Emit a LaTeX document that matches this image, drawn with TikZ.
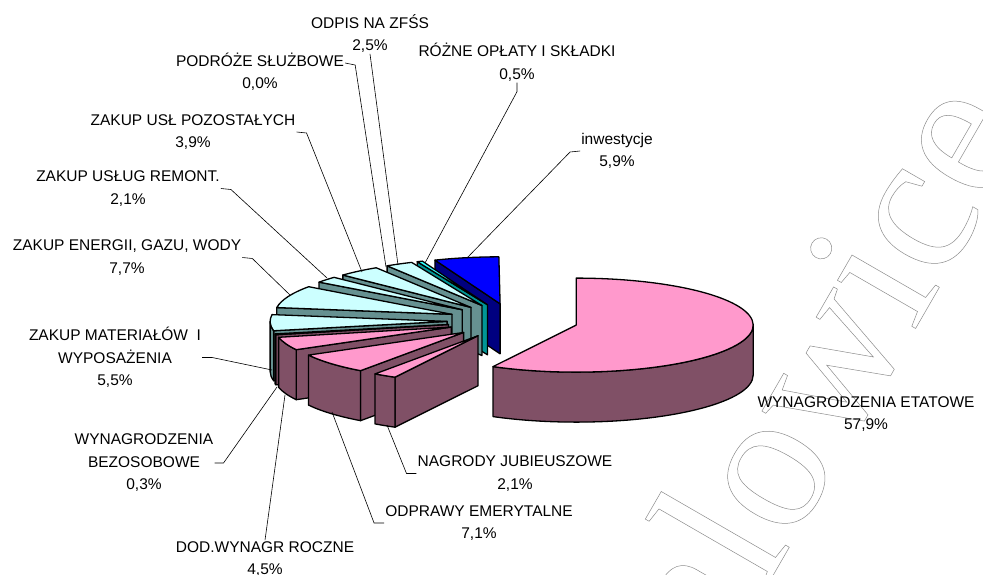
\documentclass[tikz,border=0pt]{standalone}
\usepackage{fontspec}
\setmainfont{Liberation Sans}
\newfontfamily\wmfont{Liberation Serif}

\definecolor{pinktop}{RGB}{255,153,204}
\definecolor{plumside}{RGB}{128,80,102}
\definecolor{icetop}{RGB}{204,255,255}
\definecolor{slateside}{RGB}{102,145,145}
\definecolor{aquatop}{RGB}{51,255,255}
\definecolor{tealside}{RGB}{0,150,150}
\definecolor{bluetop}{RGB}{0,0,255}
\definecolor{navyside}{RGB}{0,0,128}

\tikzset{
  slice/.style={draw=black, line width=1.3pt, line join=round},
  leader/.style={draw=black, line width=0.6pt},
  lbl/.style={align=center, inner sep=1pt, font=\fontsize{15.5}{22.5}\selectfont},
}

% one exploded slice: start angle, end angle, top colour, side colour
\newcommand{\pieslice}[4]{%
  \pgfmathsetmacro{\slmid}{(#1+#2)/2}
  \pgfmathsetmacro{\slx}{512.6+65.5*cos(\slmid)}
  \pgfmathsetmacro{\sly}{253.1+17.4*sin(\slmid)}
  \pgfmathtruncatemacro{\slcuta}{cos(#1)>0.01}
  \pgfmathtruncatemacro{\slcutb}{cos(#2)<-0.01}
  \pgfmathsetmacro{\slps}{max(#1,180)}
  \pgfmathsetmacro{\slpe}{min(#2,360)}
  \pgfmathtruncatemacro{\slrim}{\slpe>\slps+0.01}
  \begin{scope}[shift={(\slx,\sly)}]
    \ifnum\slcuta=1
      \filldraw[slice, fill=#4] (0,0) -- (#1:177 and 47) -- ++(0,-50) -- (0,-50) -- cycle;
    \fi
    \ifnum\slcutb=1
      \filldraw[slice, fill=#4] (0,0) -- (#2:177 and 47) -- ++(0,-50) -- (0,-50) -- cycle;
    \fi
    \ifnum\slrim=1
      \filldraw[slice, fill=#4] (\slps:177 and 47) arc[start angle=\slps, end angle=\slpe, x radius=177, y radius=47]
        -- ++(0,-50) arc[start angle=\slpe, end angle=\slps, x radius=177, y radius=47] -- cycle;
    \fi
    \filldraw[slice, fill=#3] (0,0) -- (#1:177 and 47) arc[start angle=#1, end angle=#2, x radius=177, y radius=47] -- cycle;
  \end{scope}
}

\begin{document}
\begin{tikzpicture}[x=1pt, y=1pt]
  \useasboundingbox (0,0) rectangle (983,574);
  % watermark
  \node[rotate=60, anchor=base west, inner sep=0, text=black!45, font=\wmfont\fontsize{200}{200}\selectfont] (watermark) at (719,-95)
    {\special{pdf:literal direct 1 Tr 0.5 w}alowice\special{pdf:literal direct 0 Tr}};

  % slices, back to front
  \pieslice{90.4}{111.6}{bluetop}{navyside}
  \pieslice{111.6}{113.4}{aquatop}{tealside}
  \pieslice{113.4}{122.4}{icetop}{slateside}
  \pieslice{122.4}{136.4}{icetop}{slateside}
  \pieslice{136.4}{144}{icetop}{slateside}
  \pieslice{144}{171.7}{icetop}{slateside}
  \pieslice{171.7}{191.5}{icetop}{slateside}
  \pieslice{242}{450}{pinktop}{plumside}
  \pieslice{191.5}{192.6}{pinktop}{plumside}
  \pieslice{192.6}{208.8}{pinktop}{plumside}
  \pieslice{208.8}{234.4}{pinktop}{plumside}
  \pieslice{234.4}{242}{pinktop}{plumside}

  % labels
  \node[lbl] (zfss) at (370,540.5) {ODPIS NA ZFŚS\\2,5\%};
  \node[lbl] (oplaty) at (517,511.5) {RÓŻNE OPŁATY I SKŁADKI\\0,5\%};
  \node[lbl] (podroze) at (260,502) {PODRÓŻE SŁUŻBOWE\\0,0\%};
  \node[lbl] (uslugi) at (193,442) {ZAKUP USŁ POZOSTAŁYCH\\3,9\%};
  \node[lbl] (remont) at (128,385.5) {ZAKUP USŁUG REMONT.\\2,1\%};
  \node[lbl] (energia) at (127,316.5) {ZAKUP ENERGII, GAZU, WODY\\7,7\%};
  \node[lbl] (materialy) at (115,216.5) {ZAKUP MATERIAŁÓW\ \ I\\WYPOSAŻENIA\\5,5\%};
  \node[lbl] (bezos) at (144,111) {WYNAGRODZENIA\\BEZOSOBOWE\\0,3\%};
  \node[lbl] (dodwyn) at (265,15) {DOD.WYNAGR ROCZNE\\4,5\%};
  \node[lbl] (odprawy) at (479,51) {ODPRAWY EMERYTALNE\\7,1\%};
  \node[lbl] (nagrody) at (515,100.5) {NAGRODY JUBIEUSZOWE\\2,1\%};
  \node[lbl] (inwest) at (617,423) {inwestycje\\5,9\%};
  \node[lbl] (etatowe) at (866,160) {WYNAGRODZENIA ETATOWE\\57,9\%};

  % leader lines
  \coordinate (zfss-end) at (398,309);
  \coordinate (oplaty-end) at (425,311);
  \coordinate (podroze-end) at (386,307);
  \coordinate (uslugi-end) at (362,302);
  \coordinate (remont-end) at (327,296);
  \coordinate (energia-end) at (290,279);
  \coordinate (materialy-end) at (272,204);
  \coordinate (bezos-end) at (277,187);
  \coordinate (dodwyn-end) at (285,179);
  \coordinate (odprawy-end) at (332,162);
  \coordinate (nagrody-end) at (387,149);
  \coordinate (inwest-end) at (467,316);
  \draw[leader] (zfss.south) -- (zfss-end);
  \draw[leader] (oplaty.south) -- ++(0,-9) -- (oplaty-end);
  \draw[leader] ([yshift=9pt]podroze.east) -- ++(10,-2) -- (podroze-end);
  \draw[leader] (uslugi.east) -- ++(10,-1) -- (uslugi-end);
  \draw[leader] (remont.east) -- ++(10,-1) -- (remont-end);
  \draw[leader] (energia.east) -- ++(10,-1) -- (energia-end);
  \draw[leader] (materialy.east) -- ++(10,0) -- (materialy-end);
  \draw[leader] (bezos.east) -- ++(9,0) -- (bezos-end);
  \draw[leader] (dodwyn.north) -- (dodwyn-end);
  \draw[leader] (odprawy.west) -- ++(-10,0) -- (odprawy-end);
  \draw[leader] (nagrody.west) -- ++(-10,0) -- (nagrody-end);
  \draw[leader] (inwest.west) -- ++(-10,-1) -- (inwest-end);
\end{tikzpicture}
\end{document}
